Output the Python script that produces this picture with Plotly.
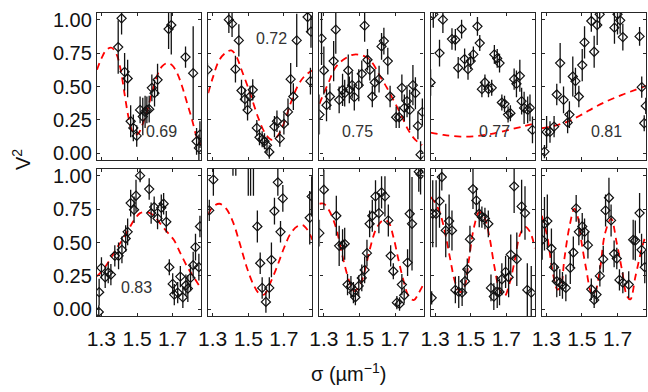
import plotly.graph_objects as go
from plotly.subplots import make_subplots

# ---------------- data ----------------
p1_x = [1.394,1.413,1.430,1.447,1.464,1.479,1.498,1.517,1.532,1.545,1.555,1.568,1.583,1.598,1.615,1.677,1.692,1.772,1.815,1.834,1.847,1.853]
p1_y = [0.795,1.01,0.61,0.56,0.24,0.19,0.13,0.325,0.275,0.31,0.325,0.33,0.49,0.45,0.55,0.93,0.96,0.72,0.60,0.09,0.04,0.14]
p1_e = [0.2,0.12,0.14,0.14,0.12,0.1,0.08,0.1,0.14,0.12,0.1,0.1,0.1,0.1,0.12,0.15,0.22,0.08,0.35,0.1,0.1,0.1]
p1_mx = [1.275,1.30,1.328,1.357,1.385,1.408,1.432,1.451,1.47,1.489,1.508,1.526,1.555,1.583,1.611,1.64,1.668,1.696,1.725,1.753,1.781,1.809,1.834,1.858]
p1_my = [0.625,0.71,0.775,0.79,0.74,0.625,0.425,0.275,0.175,0.14,0.15,0.20,0.31,0.45,0.575,0.65,0.675,0.66,0.60,0.50,0.375,0.25,0.125,0.06]

p2_x = [1.271,1.391,1.409,1.447,1.428,1.462,1.481,1.496,1.51,1.525,1.548,1.563,1.578,1.591,1.605,1.618,1.647,1.661,1.677,1.70,1.723,1.738,1.753,1.772,1.833,1.852,1.849]
p2_y = [0.625,1.0,0.97,0.845,0.63,0.47,0.405,0.325,0.425,0.475,0.19,0.12,0.105,0.09,0.06,0.01,0.2,0.24,0.11,0.22,0.31,0.555,0.425,0.845,1.02,0.91,0.54]
p2_e = [0.05,0.1,0.1,0.12,0.1,0.08,0.08,0.08,0.08,0.08,0.06,0.06,0.06,0.06,0.06,0.05,0.08,0.08,0.06,0.08,0.1,0.12,0.1,0.2,0.12,0.12,0.1]
p2_mx = [1.275,1.30,1.338,1.376,1.405,1.433,1.462,1.51,1.557,1.595,1.633,1.662,1.70,1.738,1.776,1.814,1.858]
p2_my = [0.45,0.5625,0.70,0.755,0.77,0.725,0.625,0.45,0.2625,0.15,0.10,0.125,0.225,0.375,0.50,0.575,0.62]

p3_x = [1.275,1.287,1.30,1.315,1.334,1.355,1.367,1.386,1.405,1.417,1.437,1.443,1.459,1.471,1.496,1.513,1.529,1.545,1.558,1.572,1.586,1.61,1.624,1.637,1.659,1.672,1.706,1.723,1.738,1.752,1.767,1.782,1.80,1.814,1.828,1.843,1.853]
p3_y = [0.29,0.86,0.62,0.36,0.425,0.69,0.925,0.40,0.475,0.45,0.62,0.475,0.51,0.42,0.51,0.595,0.955,0.70,0.625,0.425,0.53,0.555,0.80,0.84,0.69,0.425,0.27,0.27,0.49,0.34,0.39,0.325,0.51,0.45,0.205,-0.01,0.31]
p3_e = [0.15,0.2,0.18,0.12,0.1,0.15,0.18,0.1,0.12,0.1,0.12,0.1,0.1,0.1,0.12,0.1,0.12,0.08,0.08,0.08,0.1,0.1,0.1,0.1,0.1,0.08,0.08,0.08,0.1,0.1,0.12,0.15,0.15,0.12,0.1,0.1,0.1]
p3_mx = [1.275,1.30,1.329,1.357,1.386,1.424,1.462,1.50,1.538,1.576,1.614,1.652,1.69,1.729,1.776,1.814,1.852]
p3_my = [0.37,0.45,0.5375,0.625,0.675,0.7125,0.7375,0.7375,0.72,0.67,0.58,0.495,0.40,0.30,0.17,0.10,0.0625]

p4_x = [1.275,1.29,1.325,1.344,1.395,1.414,1.43,1.449,1.466,1.485,1.50,1.515,1.538,1.551,1.563,1.58,1.60,1.618,1.633,1.649,1.662,1.675,1.69,1.71,1.723,1.744,1.757,1.776,1.786,1.80,1.82,1.833,1.847]
p4_y = [0.53,1.04,0.75,1.0,0.855,0.85,0.64,0.93,0.705,0.63,0.69,0.74,0.95,0.825,0.48,0.53,0.48,0.49,0.74,0.71,0.675,0.38,0.37,0.29,0.30,0.555,0.52,0.58,0.39,0.34,0.325,0.34,0.175]
p4_e = [0.1,0.1,0.1,0.1,0.08,0.08,0.08,0.07,0.08,0.08,0.06,0.06,0.07,0.06,0.06,0.06,0.06,0.06,0.07,0.07,0.07,0.06,0.06,0.06,0.06,0.08,0.1,0.12,0.1,0.12,0.1,0.1,0.1]
p4_mx = [1.275,1.348,1.443,1.538,1.633,1.729,1.805,1.86]
p4_my = [0.155,0.1375,0.125,0.13,0.15,0.18,0.205,0.225]

p5_x = [1.29,1.302,1.321,1.344,1.359,1.378,1.397,1.42,1.43,1.449,1.464,1.483,1.502,1.515,1.553,1.569,1.586,1.60,1.683,1.70,1.715,1.73,1.824,1.836,1.859,1.85]
p5_y = [0.0125,0.16,0.16,0.2,0.44,0.675,0.40,0.23,0.29,0.575,0.54,0.425,0.66,0.83,0.99,0.76,0.96,1.04,0.94,1.04,0.995,0.87,0.875,0.495,0.355,0.225]
p5_e = [0.05,0.12,0.08,0.08,0.08,0.15,0.1,0.08,0.1,0.15,0.1,0.08,0.12,0.12,0.08,0.12,0.15,0.1,0.12,0.15,0.1,0.1,0.07,0.08,0.06,0.06]
p5_mx = [1.275,1.344,1.42,1.496,1.572,1.649,1.725,1.80,1.86]
p5_my = [0.1875,0.205,0.2375,0.2875,0.345,0.395,0.4375,0.475,0.505]

p6_x = [1.287,1.285,1.30,1.321,1.338,1.353,1.375,1.396,1.415,1.436,1.447,1.464,1.483,1.494,1.517,1.568,1.579,1.596,1.615,1.636,1.649,1.664,1.681,1.70,1.709,1.728,1.743,1.757,1.774,1.785,1.80,1.815,1.828,1.847,1.853]
p6_y = [0.128,-0.02,0.31,0.24,0.275,0.26,0.40,0.40,0.445,0.53,0.58,0.795,0.745,0.85,1.0,0.90,0.72,0.765,0.68,0.76,0.79,0.655,0.315,0.19,0.11,0.125,0.245,0.09,0.18,0.155,0.235,0.33,0.465,0.315,0.62]
p6_e = [0.1,0.05,0.08,0.08,0.08,0.08,0.08,0.1,0.1,0.1,0.1,0.1,0.1,0.12,0.05,0.08,0.08,0.08,0.08,0.1,0.08,0.08,0.06,0.08,0.08,0.08,0.08,0.08,0.08,0.1,0.1,0.1,0.1,0.1,0.08]
p6_mx = [1.275,1.309,1.347,1.385,1.423,1.46,1.489,1.517,1.555,1.592,1.63,1.668,1.706,1.743,1.781,1.815,1.857]
p6_my = [0.247,0.296,0.37,0.457,0.53,0.617,0.679,0.72,0.728,0.704,0.642,0.58,0.52,0.42,0.32,0.247,0.16]

p7_x = [1.281,1.304,1.414,1.43,1.50,1.513,1.529,1.551,1.567,1.578,1.599,1.618,1.63,1.647,1.666,1.681,1.694,1.845,1.856]
p7_y = [0.74,0.97,1.12,1.10,1.15,1.15,1.10,0.62,0.345,0.16,0.055,0.16,0.37,0.735,0.95,0.58,0.83,0.685,0.845]
p7_e = [0.08,0.12,0.12,0.1,0.3,0.3,0.25,0.12,0.08,0.08,0.08,0.08,0.13,0.1,0.1,0.08,0.1,0.2,0.15]
p7_mx = [1.275,1.30,1.338,1.376,1.414,1.452,1.49,1.529,1.563,1.59,1.624,1.662,1.70,1.738,1.776,1.805,1.833,1.86]
p7_my = [0.71,0.765,0.79,0.753,0.654,0.494,0.321,0.185,0.116,0.111,0.198,0.321,0.457,0.568,0.622,0.63,0.593,0.519]

p8_x = [1.275,1.30,1.37,1.386,1.405,1.417,1.433,1.452,1.466,1.477,1.496,1.513,1.529,1.542,1.557,1.572,1.59,1.609,1.624,1.643,1.662,1.675,1.69,1.71,1.725,1.738,1.751,1.77,1.782,1.795,1.833,1.843]
p8_y = [0.57,0.895,0.70,0.475,0.48,0.49,0.185,0.17,0.125,0.09,0.175,0.235,0.295,0.42,0.64,0.70,0.845,0.72,0.875,0.845,0.665,0.40,0.285,0.05,0.04,0.185,0.105,0.35,0.715,0.64,1.03,1.01]
p8_e = [0.1,0.15,0.15,0.15,0.12,0.12,0.08,0.08,0.08,0.06,0.08,0.1,0.1,0.1,0.1,0.12,0.12,0.15,0.12,0.15,0.12,0.08,0.06,0.05,0.05,0.08,0.06,0.1,0.35,0.35,0.15,0.15]
p8_mx = [1.275,1.30,1.329,1.367,1.405,1.443,1.471,1.50,1.529,1.557,1.595,1.633,1.662,1.69,1.719,1.748,1.776,1.805,1.833,1.86]
p8_my = [0.79,0.79,0.741,0.617,0.395,0.21,0.136,0.173,0.284,0.444,0.605,0.667,0.654,0.543,0.37,0.21,0.099,0.069,0.123,0.19]

p9_x = [1.281,1.287,1.306,1.325,1.338,1.36,1.379,1.395,1.414,1.433,1.452,1.468,1.481,1.496,1.513,1.532,1.548,1.563,1.58,1.599,1.614,1.63,1.649,1.662,1.675,1.696,1.713,1.725,1.744,1.759,1.786,1.805,1.818,1.84]
p9_y = [0.086,0.715,0.715,0.81,0.99,0.59,0.66,0.59,0.145,0.13,0.125,0.21,0.30,0.525,0.90,0.815,0.715,0.69,0.68,0.64,0.16,0.095,0.13,0.13,0.225,0.28,0.24,0.41,0.92,0.375,0.77,0.72,0.145,0.125]
p9_e = [0.05,0.25,0.25,0.2,0.1,0.2,0.2,0.15,0.1,0.12,0.1,0.1,0.08,0.1,0.15,0.1,0.1,0.08,0.08,0.1,0.1,0.1,0.12,0.1,0.12,0.12,0.15,0.15,0.2,0.2,0.2,0.2,0.2,0.2]
p9_mx = [1.275,1.30,1.329,1.357,1.386,1.414,1.443,1.466,1.49,1.519,1.548,1.576,1.605,1.633,1.662,1.69,1.719,1.748,1.776,1.805,1.833,1.86]
p9_my = [0.84,0.80,0.716,0.568,0.37,0.198,0.128,0.173,0.37,0.617,0.728,0.691,0.543,0.321,0.148,0.099,0.198,0.37,0.556,0.617,0.58,0.457]

p10_x = [1.277,1.29,1.306,1.329,1.344,1.359,1.376,1.391,1.41,1.435,1.452,1.468,1.483,1.502,1.515,1.534,1.553,1.569,1.582,1.601,1.62,1.633,1.652,1.664,1.681,1.696,1.711,1.73,1.763,1.788,1.80,1.824,1.835,1.853]
p10_y = [0.52,0.64,0.66,0.455,0.315,0.21,0.20,0.18,0.16,0.31,0.425,0.755,0.58,0.62,0.58,0.48,0.15,0.07,0.11,0.25,0.375,0.74,0.835,0.665,0.415,0.38,0.22,0.20,0.185,0.52,0.515,0.72,0.445,0.315]
p10_e = [0.15,0.2,0.2,0.15,0.12,0.12,0.1,0.1,0.1,0.12,0.12,0.1,0.1,0.1,0.1,0.1,0.08,0.06,0.06,0.08,0.1,0.12,0.15,0.12,0.1,0.08,0.08,0.08,0.1,0.15,0.15,0.15,0.12,0.12]
p10_mx = [1.275,1.306,1.334,1.363,1.382,1.401,1.43,1.458,1.477,1.496,1.525,1.553,1.569,1.601,1.63,1.664,1.696,1.725,1.753,1.772,1.801,1.839,1.86]
p10_my = [0.70,0.543,0.296,0.148,0.173,0.37,0.617,0.753,0.691,0.519,0.296,0.123,0.111,0.296,0.568,0.679,0.494,0.296,0.099,0.074,0.247,0.469,0.56]

panel_labels = ["0.69", "0.72", "0.75", "0.77", "0.81", "0.83", "", "", "", ""]
label_x = [1.638, 1.633, 1.49, 1.633, 1.639, 1.498, None, None, None, None]
label_y = [0.16, 0.86, 0.16, 0.16, 0.16, 0.16, None, None, None, None]

x_ticks = [1.3, 1.5, 1.7]
x_ticktext = ["1.3", "1.5", "1.7"]
y_ticks = [0.0, 0.25, 0.5, 0.75, 1.0]
y_ticktext = ["0.00", "0.25", "0.50", "0.75", "1.00"]
x_title = "σ (µm<sup>−1</sup>)"
y_title = "V<sup>2</sup>"

panels = [
    (p1_x, p1_y, p1_e, p1_mx, p1_my), (p2_x, p2_y, p2_e, p2_mx, p2_my),
    (p3_x, p3_y, p3_e, p3_mx, p3_my), (p4_x, p4_y, p4_e, p4_mx, p4_my),
    (p5_x, p5_y, p5_e, p5_mx, p5_my), (p6_x, p6_y, p6_e, p6_mx, p6_my),
    (p7_x, p7_y, p7_e, p7_mx, p7_my), (p8_x, p8_y, p8_e, p8_mx, p8_my),
    (p9_x, p9_y, p9_e, p9_mx, p9_my), (p10_x, p10_y, p10_e, p10_mx, p10_my),
]

# ---------------- figure ----------------
W, H = 648, 392
ML, MR, MT, MB = 97, 2, 13, 76
PW = W - ML - MR
PH = H - MT - MB

fig = make_subplots(rows=2, cols=5, horizontal_spacing=7 / PW, vertical_spacing=9 / PH)

FONT = "Liberation Sans, Arial, sans-serif"
AX = "#262626"

for i, (x, y, e, mx, my) in enumerate(panels):
    r, c = i // 5 + 1, i % 5 + 1
    fig.add_trace(go.Scatter(
        x=mx, y=my, mode="lines", line=dict(color="#ff0000", width=1.8, dash="7px,5px", shape="spline", smoothing=1.0),
        hoverinfo="skip", showlegend=False), row=r, col=c)
    fig.add_trace(go.Scatter(
        x=x, y=y, mode="markers",
        error_y=dict(type="data", array=e, visible=True, color="#111111", thickness=1.3, width=0),
        marker=dict(symbol="diamond-open", size=7, color="#111111", line=dict(width=1.2, color="#111111")),
        showlegend=False), row=r, col=c)
    if panel_labels[i]:
        ax_suffix = "" if i == 0 else str(i + 1)
        fig.add_annotation(x=label_x[i], y=label_y[i], xref="x" + ax_suffix, yref="y" + ax_suffix,
                           text=panel_labels[i], showarrow=False, xanchor="center", yanchor="middle",
                           font=dict(family=FONT, size=16, color="#333333"))

for i in range(10):
    r, c = i // 5 + 1, i % 5 + 1
    fig.update_xaxes(range=[1.275, 1.86], tickvals=x_ticks, ticktext=x_ticktext, showticklabels=(r == 2),
                     ticks="inside", ticklen=3, tickcolor=AX, tickwidth=1, showline=True, linecolor=AX,
                     linewidth=1.3, mirror="ticks", showgrid=False, zeroline=False, tickangle=0,
                     ticklabelstandoff=4,
                     tickfont=dict(family=FONT, size=21, color="#111111"), row=r, col=c)
    fig.update_yaxes(range=[-0.05, 1.05], tickvals=y_ticks, ticktext=y_ticktext, showticklabels=(c == 1),
                     ticks="inside", ticklen=3, tickcolor=AX, tickwidth=1, showline=True, linecolor=AX,
                     linewidth=1.3, mirror="ticks", showgrid=False, zeroline=False,
                     tickfont=dict(family=FONT, size=20, color="#111111"), row=r, col=c)

fig.add_annotation(x=(348 - ML) / PW, y=(MT + PH - 372) / PH, xref="paper", yref="paper",
                   xanchor="center", yanchor="middle",
                   text=x_title, showarrow=False, font=dict(family=FONT, size=20, color="#111111"))
fig.add_annotation(x=(21 - ML) / PW, y=(MT + PH - 160) / PH, xref="paper", yref="paper",
                   xanchor="center", yanchor="middle",
                   text=y_title, textangle=-90, showarrow=False, font=dict(family=FONT, size=20, color="#111111"))

fig.update_layout(width=W, height=H, margin=dict(l=ML, r=MR, t=MT, b=MB),
                  paper_bgcolor="white", plot_bgcolor="white", showlegend=False)

fig.write_html("out.html")
